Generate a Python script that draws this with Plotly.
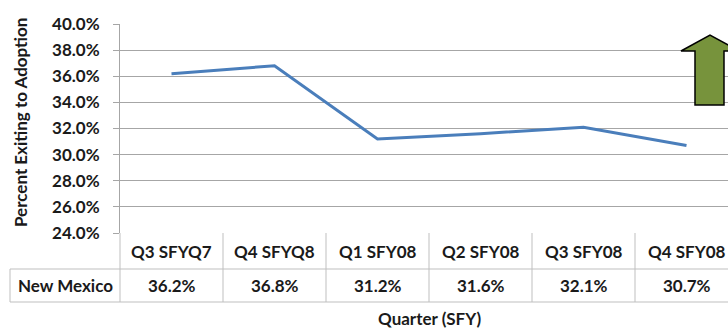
import plotly.graph_objects as go

# Quarterly share of exits to adoption, New Mexico
quarters = ["Q3 SFYQ7", "Q4 SFYQ8", "Q1 SFY08", "Q2 SFY08", "Q3 SFY08", "Q4 SFY08"]
new_mexico = [36.2, 36.8, 31.2, 31.6, 32.1, 30.7]
row_label = "New Mexico"
y_ticks = [24, 26, 28, 30, 32, 34, 36, 38, 40]

FONT = "Lato"
TXT = "#1a1a1a"
GRID = "#a6a6a6"
CELL = "#bfbfbf"

# Page / plot geometry (pixels)
W_FIG, H_FIG = 728, 329
L, T = 120, 24
PW, PH = W_FIG - L, 209
COL = 103  # width of one category column
x_lo = -0.5
x_hi = x_lo + PW / COL


def px(x):
    return (x - L) / PW


def py(y):
    return (T + PH - y) / PH


def cat_x(i):
    # pixel position of a category index on the x axis
    return L + (i - x_lo) * COL


idx = list(range(len(quarters)))

fig = go.Figure()
fig.add_trace(go.Scatter(
    x=idx, y=new_mexico, mode="lines",
    line=dict(color="#4a7ebb", width=3),
    hoverinfo="skip", showlegend=False, cliponaxis=False,
))

shapes = []
annotations = []

row1_top, row1_bot, row2_bot = 233, 269, 302
table_left = 10

# column borders of the data table
for i in range(len(quarters) + 1):
    xb = cat_x(i - 0.5)
    shapes.append(dict(type="line", xref="paper", yref="paper",
                       x0=px(xb), x1=px(xb), y0=py(row1_top), y1=py(row2_bot),
                       line=dict(color=CELL, width=1)))
shapes.append(dict(type="line", xref="paper", yref="paper",
                   x0=px(table_left), x1=px(table_left), y0=py(row1_bot), y1=py(row2_bot),
                   line=dict(color=CELL, width=1)))
for yb in (row1_bot, row2_bot):
    shapes.append(dict(type="line", xref="paper", yref="paper",
                       x0=px(table_left), x1=px(cat_x(len(quarters) - 0.5)),
                       y0=py(yb), y1=py(yb), line=dict(color=CELL, width=1)))

# upward arrow marker
arrow = [(681, 51), (710, 35), (739, 51), (724, 51), (724, 105), (695, 105), (695, 51)]
path = "M " + " L ".join(f"{px(a):.5f},{py(b):.5f}" for a, b in arrow) + " Z"
shapes.append(dict(type="path", xref="paper", yref="paper", path=path,
                   fillcolor="#77933c", line=dict(color="#000000", width=1.5)))

cell_font = dict(family=FONT, size=17, color=TXT, weight="bold")
for i, (q, v) in enumerate(zip(quarters, new_mexico)):
    annotations.append(dict(x=i, xref="x", y=py((row1_top + row1_bot) / 2), yref="paper",
                            text=q, showarrow=False, font=cell_font,
                            xanchor="center", yanchor="middle"))
    annotations.append(dict(x=i, xref="x", y=py((row1_bot + row2_bot) / 2), yref="paper",
                            text=f"{v:.1f}%", showarrow=False, font=cell_font,
                            xanchor="center", yanchor="middle"))
annotations.append(dict(x=px((table_left + L) / 2), xref="paper",
                        y=py((row1_bot + row2_bot) / 2), yref="paper",
                        text=row_label, showarrow=False, font=cell_font,
                        xanchor="center", yanchor="middle"))
annotations.append(dict(x=px((L + cat_x(len(quarters) - 0.5)) / 2), xref="paper",
                        y=py(318), yref="paper", text="Quarter (SFY)", showarrow=False,
                        font=cell_font, xanchor="center", yanchor="middle"))
annotations.append(dict(x=px(20), xref="paper", y=py(123), yref="paper",
                        text="Percent Exiting to Adoption", textangle=-90, showarrow=False,
                        font=dict(family=FONT, size=17, color=TXT, weight="bold"),
                        xanchor="center", yanchor="middle"))

fig.update_layout(
    width=W_FIG, height=H_FIG,
    margin=dict(l=L, r=0, t=T, b=H_FIG - T - PH, pad=0),
    paper_bgcolor="white", plot_bgcolor="white",
    xaxis=dict(range=[x_lo, x_hi], showgrid=False, zeroline=False,
               showticklabels=False, ticks="", showline=False, fixedrange=True),
    yaxis=dict(range=[24, 40], tickvals=y_ticks,
               ticktext=[f"{t:.1f}%" for t in y_ticks],
               showgrid=True, gridcolor=GRID, gridwidth=1,
               zeroline=False, showline=True, linecolor=GRID, linewidth=1,
               ticks="outside", ticklen=6, tickcolor=GRID, ticklabelstandoff=10,
               tickfont=dict(family=FONT, size=17, color=TXT, weight="bold"),
               fixedrange=True),
    shapes=shapes, annotations=annotations,
)

fig.write_html("out.html")
